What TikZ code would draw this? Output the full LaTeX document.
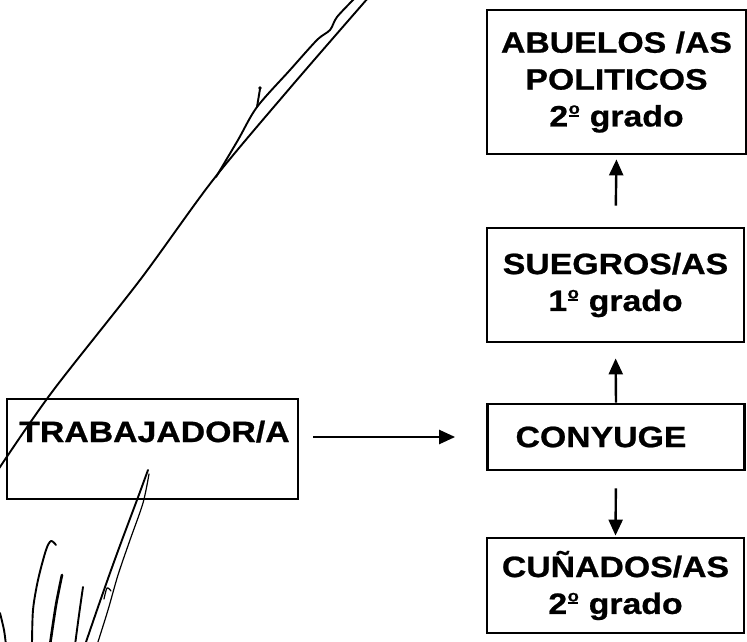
\documentclass[tikz,border=0pt]{standalone}
\usepackage{fontspec}
\setmainfont[FakeStretch=1.15,FakeBold=0.8]{Liberation Sans}
\usetikzlibrary{arrows.meta}
\newcommand\myord{\kern0.5bp\rlap{\rule[9.5bp]{10.5bp}{2.2bp}}\raisebox{12.5bp}{\fontsize{16}{16}\selectfont o}\kern0.5bp}
\tikzset{
  box/.style={draw=black, line width=2.8bp, inner sep=0pt, align=center,
    font=\fontsize{29.5}{37}\selectfont\bfseries},
  arr/.style={line width=2.4bp, -{Triangle[length=16bp,width=14bp]}},
  sign/.style={line width=1.9bp, line cap=round, line join=round}
}
\begin{document}
\begin{tikzpicture}[x=1bp,y=-1bp]
\useasboundingbox[fill=white] (0,0) rectangle (747,642);
% boxes
\node[box, minimum width=291bp, minimum height=100bp, text height=21bp, text depth=35bp] (trab) at (152.5,449) {\hspace*{4bp}TRABAJADOR/A};
\node[box, minimum width=257bp, minimum height=66bp] (con) at (616,437) {CONYUGE\hspace*{30bp}};
\node[box, minimum width=257bp, minimum height=114bp] (sue) at (615.5,285) {SUEGROS/AS\\1\myord{} grado};
\node[box, minimum width=259bp, minimum height=144bp] (abu) at (616.5,82) {ABUELOS /AS\\POLITICOS\\2\myord{} grado};
\node[box, minimum width=257bp, minimum height=95bp] (cun) at (615.5,585.5) {CUÑADOS/AS\\2\myord{} grado};
% connectors
\draw[arr, shorten <=14bp, shorten >=31bp] (trab.east |- con.west) -- (con.west);
\draw[arr, shorten >=15bp] (con.north) -- (sue.south);
\draw[arr, shorten <=21bp, shorten >=4bp] (sue.north) -- (abu.south);
\draw[arr, shorten <=17bp, shorten >=1bp] (con.south) -- (cun.north);
% handwritten signature strokes
\draw[sign] plot[smooth] coordinates {(-2,470) (52,392) (140,280) (213,180) (290,88) (368,-2)};
\draw[sign] plot[smooth] coordinates {(216,177) (238,140) (257,107) (290,70) (317,40) (330,30) (337,17) (355,-2)};
\draw[sign] (257,107) -- (260,89);
\fill (260,88) circle (1.8bp);
\draw[sign] plot[smooth] coordinates {(148,470) (137,500) (122,540) (110,573) (97,610) (85,645)};
\draw[sign, line width=1.2bp] plot[smooth] coordinates {(149,474) (143,503) (130,540) (118,575) (108,610) (97,645)};
\draw[sign, line width=1.2bp] plot[smooth] coordinates {(104,599) (107,588) (111,591)};
\draw[sign] plot[smooth] coordinates {(56,545) (51,541) (46,550) (38,580) (33,610) (32,645)};
\draw[sign, line width=2.6bp] plot[smooth] coordinates {(62,575) (56,605) (50,645)};
\draw[sign] plot[smooth] coordinates {(83,587) (79,615) (75,645)};
\draw[sign] plot[smooth] coordinates {(0,613) (4,630) (6,645)};
\end{tikzpicture}
\end{document}
